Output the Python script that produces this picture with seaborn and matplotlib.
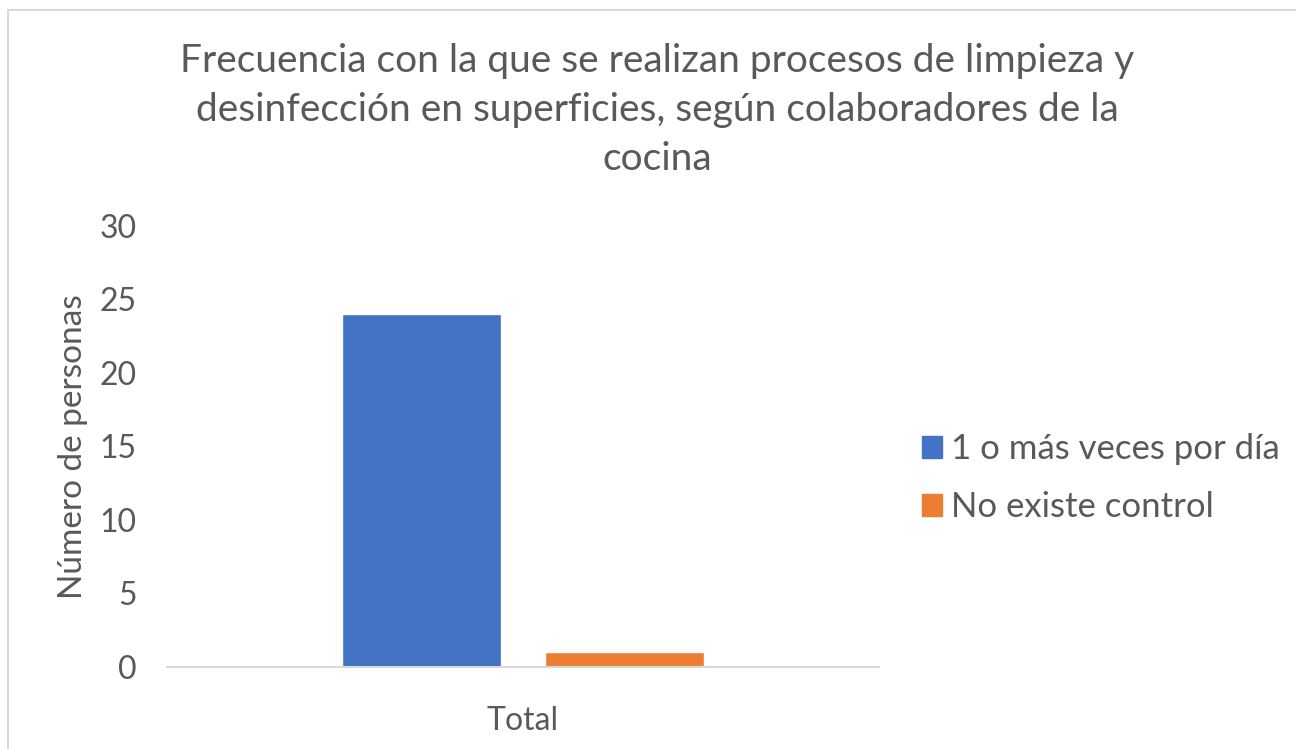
import matplotlib
matplotlib.use("Agg")
from matplotlib import pyplot as plt
import matplotlib.patches as mpatches
import seaborn as sns
import pandas as pd

# datos
categorias = ["Total", "Total"]
frecuencia = ["1 o más veces por día", "No existe control"]
personas = [24, 1]
colores = ["#4472C4", "#ED7D31"]

sns.set_theme(style="white")
plt.rcParams['font.family'] = ['Lato', 'DejaVu Sans']
texto = "#595959"

df = pd.DataFrame({"cat": categorias, "frec": frecuencia, "n": personas})

fig = plt.figure(figsize=(12.96, 7.49), dpi=100)
ax = fig.add_axes([0.129, 0.1095, 0.549, 0.589])

sns.barplot(data=df, x="cat", y="n", hue="frec", palette=colores,
            width=0.57, gap=0.215, saturation=1, legend=False, ax=ax)

ax.set_ylim(0, 30)
ax.set_yticks(range(0, 31, 5))
ax.set_xlim(-0.5, 0.5)
for s in ["top", "right", "left"]:
    ax.spines[s].set_visible(False)
ax.spines["bottom"].set_color("#D9D9D9")
ax.spines["bottom"].set_linewidth(1.5)
ax.tick_params(axis="both", length=0, labelsize=23, labelcolor=texto)
ax.tick_params(axis="y", pad=22)
ax.tick_params(axis="x", pad=28)
ax.set_xlabel("")
ax.set_ylabel("Número de personas", fontsize=24, color=texto, labelpad=8)

fig.suptitle("Frecuencia con la que se realizan procesos de limpieza y\n"
             "desinfección en superficies, según colaboradores de la\ncocina",
             x=0.507, y=0.943, fontsize=28, color=texto, linespacing=1.46)

handles = [mpatches.Patch(color=c, label=l) for c, l in zip(colores, frecuencia)]
fig.legend(handles=handles, loc="center left", bbox_to_anchor=(0.687, 0.362),
           frameon=False, fontsize=25, labelcolor=texto, handlelength=0.6,
           handleheight=0.6, handletextpad=0.25, labelspacing=0.75)

# marco del gráfico
fig.patches.append(mpatches.Rectangle((0.006, -0.01), 1.0, 0.997, transform=fig.transFigure,
                                      fill=False, edgecolor="#D9D9D9", linewidth=1.5))

plt.savefig("out.png", dpi=100)
